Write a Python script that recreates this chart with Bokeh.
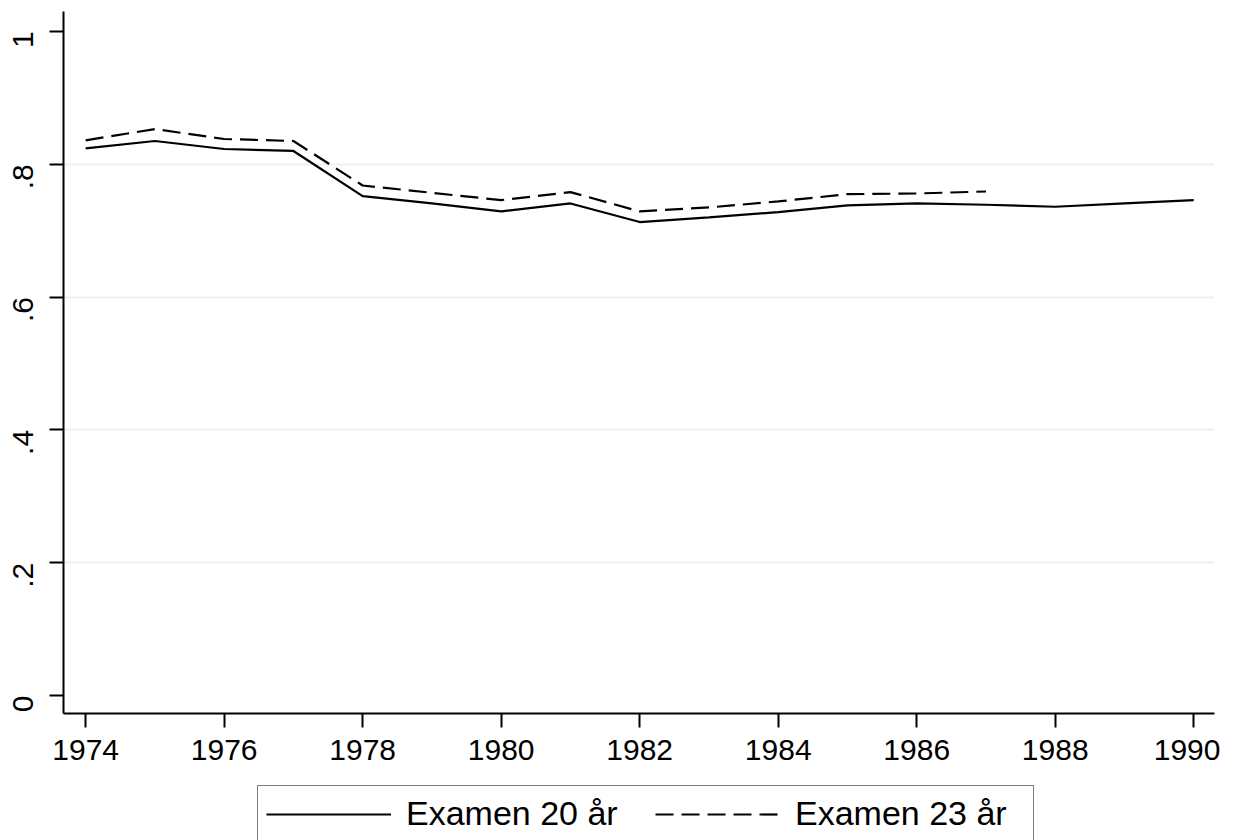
import math
from bokeh.plotting import figure
from bokeh.layouts import column
from bokeh.models import FixedTicker, Legend, LegendItem, Range1d
from bokeh.embed import file_html
from bokeh.resources import INLINE

years = list(range(1974, 1991))
examen20 = [0.824, 0.835, 0.823, 0.820, 0.752, 0.741, 0.729, 0.741, 0.713,
            0.720, 0.728, 0.738, 0.741, 0.739, 0.736, 0.741, 0.746]
years23 = list(range(1974, 1988))
examen23 = [0.836, 0.853, 0.838, 0.835, 0.768, 0.757, 0.746, 0.758, 0.729,
            0.735, 0.744, 0.755, 0.756, 0.759]
xticks = list(range(1974, 1991, 2))
yticks = [0, 0.2, 0.4, 0.6, 0.8, 1.0]
ylabels = ["0", ".2", ".4", ".6", ".8", "1"]
gridticks = [0.2, 0.4, 0.6, 0.8]
series_names = ["Examen 20 år", "Examen 23 år"]

FONT = "Liberation Sans"
SOLID = dict(line_color="black", line_width=2.2)
DASHED = dict(line_color="black", line_width=2.2, line_dash="18 8")

p = figure(width=1220, height=779,
           x_range=(1973.68, 1990.3), y_range=(-0.027, 1.03),
           output_backend="svg", toolbar_location=None,
           min_border_left=63, min_border_right=6, min_border_top=11, min_border_bottom=66)
p.outline_line_color = None
p.background_fill_color = "white"
p.border_fill_color = "white"

p.xgrid.visible = False
p.ygrid.ticker = FixedTicker(ticks=gridticks)
p.ygrid.grid_line_color = "#EAF2F3"
p.ygrid.grid_line_width = 2

for ax in (p.xaxis[0], p.yaxis[0]):
    ax.axis_line_color = "black"
    ax.axis_line_width = 2
    ax.major_tick_line_color = "black"
    ax.major_tick_line_width = 2
    ax.major_tick_out = 14
    ax.major_tick_in = 0
    ax.minor_tick_line_color = None
    ax.major_label_text_font = FONT
    ax.major_label_text_font_size = "30px"
    ax.major_label_text_color = "black"

p.xaxis.ticker = FixedTicker(ticks=xticks)
p.xaxis.major_label_standoff = 12
p.yaxis.ticker = FixedTicker(ticks=yticks)
p.yaxis.major_label_overrides = {t: l for t, l in zip(yticks, ylabels)}
p.yaxis.major_label_orientation = math.pi / 2
p.yaxis.major_label_standoff = 26

p.line(years, examen20, **SOLID)
p.line(years23, examen23, **DASHED)

# legend strip below the plot (series drawn again here, outside its visible range)
pl = figure(width=1220, height=61, x_range=Range1d(1973.68, 1990.3), y_range=Range1d(5, 6),
            output_backend="svg", toolbar_location=None,
            x_axis_type=None, y_axis_type=None,
            min_border_left=0, min_border_right=0, min_border_top=0, min_border_bottom=0)
pl.outline_line_color = None
pl.xgrid.visible = False
pl.ygrid.visible = False
k1 = pl.line(years, examen20, **SOLID)
k2 = pl.line(years23, examen23, **DASHED)

legend = Legend(items=[LegendItem(label=series_names[0], renderers=[k1]),
                       LegendItem(label=series_names[1], renderers=[k2])],
                orientation="horizontal", location=(194, -2))
legend.label_text_font = FONT
legend.label_text_font_size = "34px"
legend.label_text_color = "black"
legend.glyph_width = 125
legend.glyph_height = 30
legend.label_standoff = 15
legend.label_width = 230
legend.spacing = 19
legend.padding = 8
legend.margin = 0
legend.border_line_color = "black"
legend.border_line_width = 1.5
legend.background_fill_color = "white"
pl.add_layout(legend, "center")

layout = column(p, pl, spacing=0)
open("out.html", "w").write(file_html(layout, INLINE))
